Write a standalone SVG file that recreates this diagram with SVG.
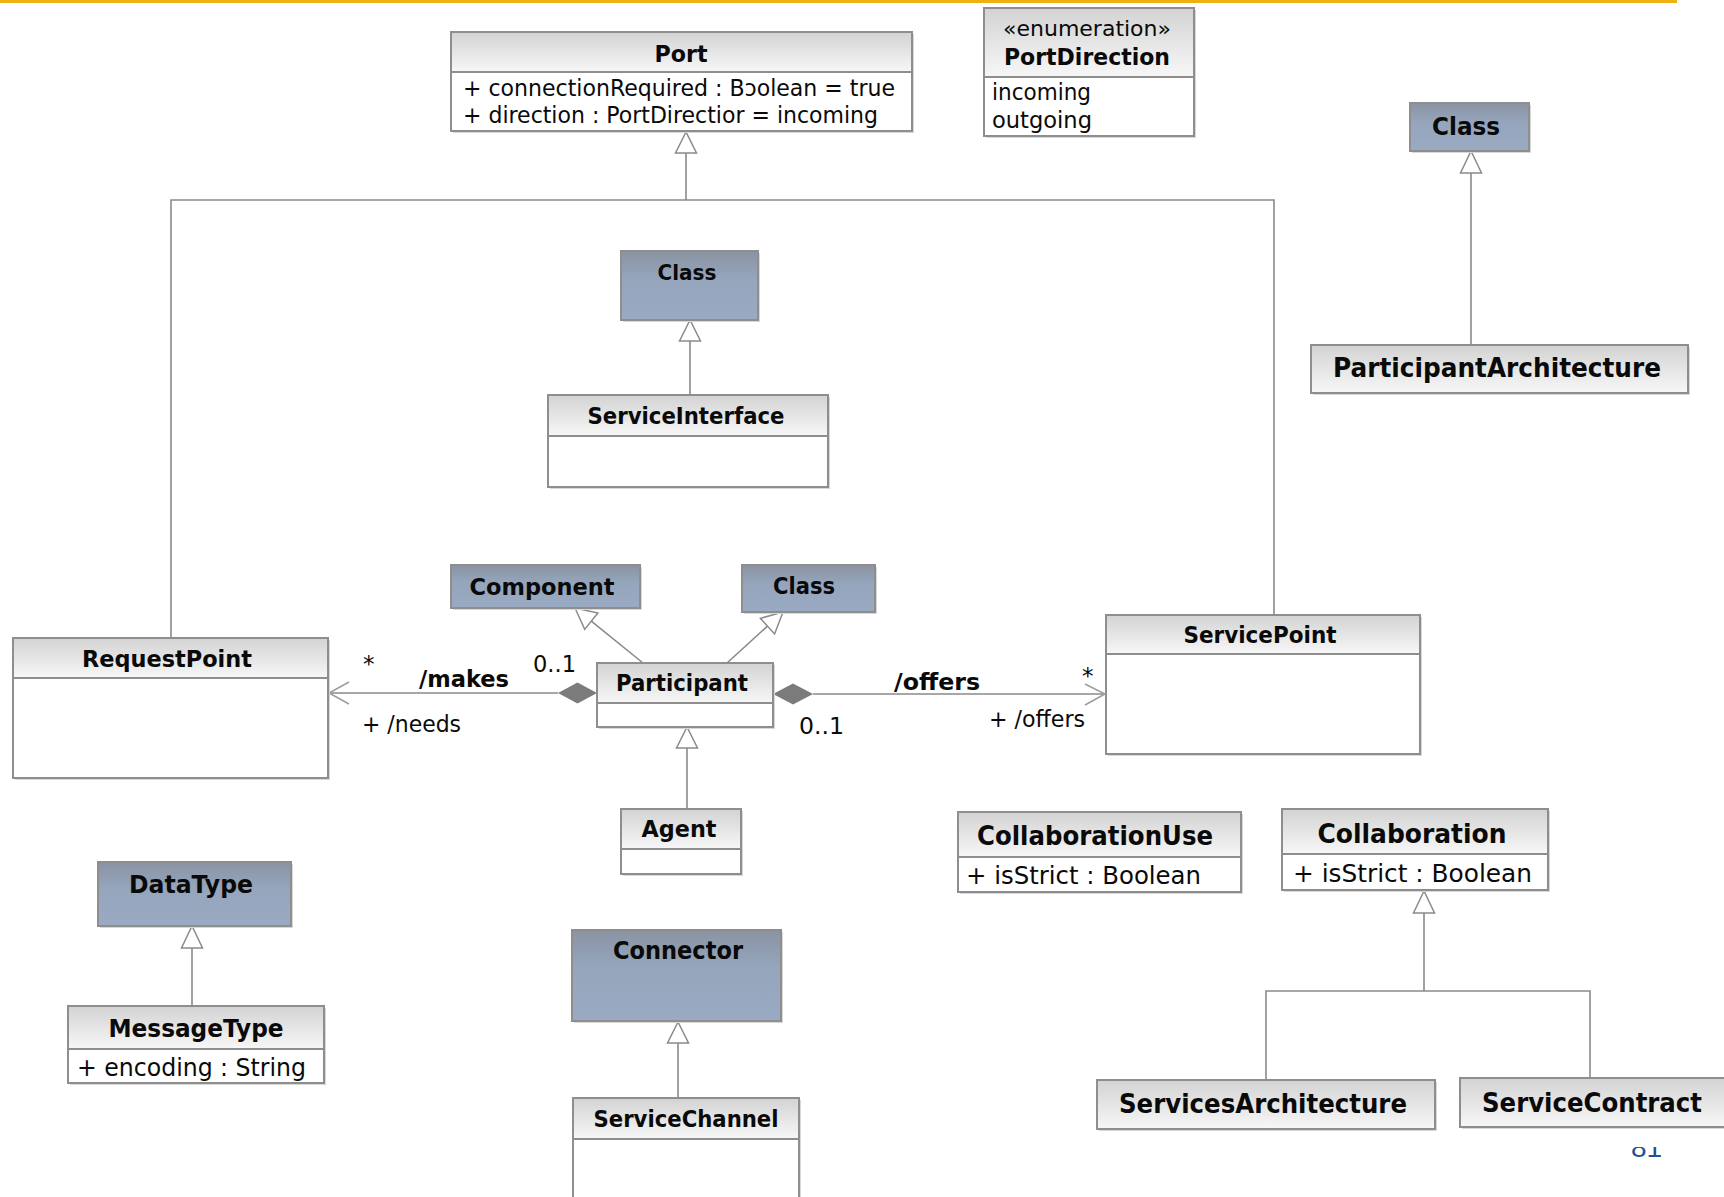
<svg xmlns="http://www.w3.org/2000/svg" width="1724" height="1197" viewBox="0 0 1724 1197">
  <defs>
    <linearGradient id="hdrGrad" x1="0" y1="0" x2="0" y2="1">
      <stop offset="0" stop-color="#d3d3d3"/>
      <stop offset="1" stop-color="#f7f7f7"/>
    </linearGradient>
    <linearGradient id="metaGrad" x1="0" y1="0" x2="0" y2="1">
      <stop offset="0" stop-color="#8a93a2"/>
      <stop offset="0.4" stop-color="#95a5bc"/>
      <stop offset="1" stop-color="#99aac2"/>
    </linearGradient>
    <clipPath id="pageNumClip">
      <rect x="1600" y="1147" width="124" height="50"/>
    </clipPath>
    <style>
      .shadow { fill: #d8d8d8; }
      .hdr { fill: url(#hdrGrad); }
      .meta { fill: url(#metaGrad); }
      .body { fill: #ffffff; }
      .frame { fill: none; stroke: #8e8e8e; stroke-width: 2; }
      .div { stroke: #8e8e8e; stroke-width: 2; }
      .title { font-family: "DejaVu Sans", "Liberation Sans", sans-serif; font-weight: bold; text-anchor: middle; fill: #0a0a0a; }
      .attr { font-family: "DejaVu Sans", "Liberation Sans", sans-serif; fill: #0a0a0a; }
      .lbl { font-family: "DejaVu Sans", "Liberation Sans", sans-serif; fill: #0a0a0a; font-size: 23px; }
      .lblb { font-family: "DejaVu Sans", "Liberation Sans", sans-serif; fill: #0a0a0a; font-size: 23.5px; font-weight: bold; }
      .edge { fill: none; stroke: #8a8a8a; stroke-width: 1.6; }
      .gen { fill: #ffffff; stroke: #8a8a8a; stroke-width: 1.5; stroke-linejoin: miter; }
      .open { fill: none; stroke: #9c9c9c; stroke-width: 1.5; }
      .dia { fill: #7b7b7b; }
    </style>
  </defs>

  <rect x="0" y="0" width="1724" height="1197" fill="#ffffff"/>
  <!-- slide accent bar -->
  <rect x="0" y="0" width="1677" height="3" fill="#eeb111"/>
  <!-- slide number, partly hidden under the diagram -->
  <text x="1631" y="1157" clip-path="url(#pageNumClip)" font-family="Liberation Sans, Arial, sans-serif" font-size="28" fill="#264f8f">81</text>

  <!-- connectors -->
  <g id="connectors">
    <!-- RequestPoint / ServicePoint specialise Port -->
    <polyline class="edge" points="171,638 171,200 1274,200 1274,615"/>
    <line class="edge" x1="686" y1="200" x2="686" y2="153"/>
    <polygon class="gen" points="686,132 675.5,153 696.5,153"/>

    <!-- ServiceInterface to Class -->
    <line class="edge" x1="690" y1="395" x2="690" y2="341"/>
    <polygon class="gen" points="690,320 679.5,341 700.5,341"/>

    <!-- ParticipantArchitecture to Class -->
    <line class="edge" x1="1471" y1="345" x2="1471" y2="173"/>
    <polygon class="gen" points="1471,151 1460.5,173 1481.5,173"/>

    <!-- Participant to Component -->
    <line class="edge" x1="643" y1="663" x2="591.3" y2="621.2"/>
    <polygon class="gen" points="575,608 584.7,629.4 597.9,613"/>

    <!-- Participant to Class -->
    <line class="edge" x1="727" y1="663" x2="767.5" y2="626.1"/>
    <polygon class="gen" points="783,612 774.6,633.9 760.4,618.3"/>

    <!-- Agent to Participant -->
    <line class="edge" x1="687" y1="809" x2="687" y2="748"/>
    <polygon class="gen" points="687,727 676.5,748 697.5,748"/>

    <!-- makes / needs -->
    <line class="edge" x1="558" y1="693" x2="329" y2="693"/>
    <polygon class="dia" points="597,693 577.5,682.5 558,693 577.5,703.5"/>
    <polyline class="open" points="349,682 329,693 349,704"/>

    <!-- offers -->
    <line class="edge" x1="813" y1="694" x2="1105" y2="694"/>
    <polygon class="dia" points="773,694 793,683.5 813,694 793,704.5"/>
    <polyline class="open" points="1085,684 1105,694 1085,705"/>

    <!-- MessageType to DataType -->
    <line class="edge" x1="192" y1="1006" x2="192" y2="948"/>
    <polygon class="gen" points="192,926 181.5,948 202.5,948"/>

    <!-- ServiceChannel to Connector -->
    <line class="edge" x1="678" y1="1098" x2="678" y2="1043"/>
    <polygon class="gen" points="678,1022 667.5,1043 688.5,1043"/>

    <!-- ServicesArchitecture / ServiceContract specialise Collaboration -->
    <polyline class="edge" points="1266,1080 1266,991 1590,991 1590,1078"/>
    <line class="edge" x1="1424" y1="991" x2="1424" y2="913"/>
    <polygon class="gen" points="1424,891 1413.5,913 1434.5,913"/>

    <!-- association end labels -->
    <text class="lbl" x="363" y="672">*</text>
    <text class="lblb" x="419" y="687" textLength="90" lengthAdjust="spacingAndGlyphs">/makes</text>
    <text class="lbl" x="533" y="672" textLength="43" lengthAdjust="spacingAndGlyphs">0..1</text>
    <text class="lbl" x="362" y="732" textLength="99" lengthAdjust="spacingAndGlyphs">+ /needs</text>
    <text class="lblb" x="894" y="690" textLength="86" lengthAdjust="spacingAndGlyphs">/offers</text>
    <text class="lbl" x="1082" y="684">*</text>
    <text class="lbl" x="989" y="727" textLength="96" lengthAdjust="spacingAndGlyphs">+ /offers</text>
    <text class="lbl" x="799" y="734" textLength="45" lengthAdjust="spacingAndGlyphs">0..1</text>
  </g>

  <!-- Port -->
  <g id="port">
    <rect class="shadow" x="453" y="34" width="461" height="99"/>
    <rect class="hdr" x="451" y="32" width="461" height="40"/>
    <rect class="body" x="451" y="72" width="461" height="59"/>
    <line class="div" x1="451" y1="72" x2="912" y2="72"/>
    <rect class="frame" x="451" y="32" width="461" height="99"/>
    <text class="title" x="681" y="62" font-size="23.5" textLength="53" lengthAdjust="spacingAndGlyphs">Port</text>
    <text class="attr" x="463" y="96" font-size="23" textLength="432" lengthAdjust="spacingAndGlyphs">+ connectionRequired : Bɔolean = true</text>
    <text class="attr" x="463" y="123" font-size="23" textLength="415" lengthAdjust="spacingAndGlyphs">+ direction : PortDirectior = incoming</text>
  </g>

  <!-- PortDirection enumeration -->
  <g id="portDirection">
    <rect class="shadow" x="986" y="10" width="210" height="128"/>
    <rect class="hdr" x="984" y="8" width="210" height="69"/>
    <rect class="body" x="984" y="77" width="210" height="59"/>
    <line class="div" x1="984" y1="77" x2="1194" y2="77"/>
    <rect class="frame" x="984" y="8" width="210" height="128"/>
    <text class="attr" x="1087" y="36" font-size="20.5" text-anchor="middle" textLength="168" lengthAdjust="spacingAndGlyphs">«enumeration»</text>
    <text class="title" x="1087" y="65" font-size="23.5" textLength="166" lengthAdjust="spacingAndGlyphs">PortDirection</text>
    <text class="attr" x="992" y="100" font-size="23" textLength="99" lengthAdjust="spacingAndGlyphs">incoming</text>
    <text class="attr" x="992" y="128" font-size="23" textLength="100" lengthAdjust="spacingAndGlyphs">outgoing</text>
  </g>

  <!-- Class (metaclass, top right) -->
  <g id="classRight">
    <rect class="shadow" x="1412" y="105" width="119" height="48"/>
    <rect class="meta" x="1410" y="103" width="119" height="48"/>
    <rect class="frame" x="1410" y="103" width="119" height="48"/>
    <text class="title" x="1466" y="135" font-size="24.5" textLength="68" lengthAdjust="spacingAndGlyphs">Class</text>
  </g>

  <!-- ParticipantArchitecture -->
  <g id="participantArchitecture">
    <rect class="shadow" x="1313" y="347" width="377" height="48"/>
    <rect class="hdr" x="1311" y="345" width="377" height="48"/>
    <rect class="frame" x="1311" y="345" width="377" height="48"/>
    <text class="title" x="1497" y="377" font-size="26" textLength="328" lengthAdjust="spacingAndGlyphs">ParticipantArchitecture</text>
  </g>

  <!-- Class (metaclass, above ServiceInterface) -->
  <g id="classTop">
    <rect class="shadow" x="623" y="253" width="137" height="69"/>
    <rect class="meta" x="621" y="251" width="137" height="69"/>
    <rect class="frame" x="621" y="251" width="137" height="69"/>
    <text class="title" x="687" y="280" font-size="21.5" textLength="59" lengthAdjust="spacingAndGlyphs">Class</text>
  </g>

  <!-- ServiceInterface -->
  <g id="serviceInterface">
    <rect class="shadow" x="550" y="397" width="280" height="92"/>
    <rect class="hdr" x="548" y="395" width="280" height="41"/>
    <rect class="body" x="548" y="436" width="280" height="51"/>
    <line class="div" x1="548" y1="436" x2="828" y2="436"/>
    <rect class="frame" x="548" y="395" width="280" height="92"/>
    <text class="title" x="686" y="424" font-size="22.5" textLength="197" lengthAdjust="spacingAndGlyphs">ServiceInterface</text>
  </g>

  <!-- Component (metaclass) -->
  <g id="component">
    <rect class="shadow" x="453" y="567" width="189" height="43"/>
    <rect class="meta" x="451" y="565" width="189" height="43"/>
    <rect class="frame" x="451" y="565" width="189" height="43"/>
    <text class="title" x="542" y="595" font-size="23.5" textLength="145" lengthAdjust="spacingAndGlyphs">Component</text>
  </g>

  <!-- Class (metaclass, above Participant) -->
  <g id="classMid">
    <rect class="shadow" x="744" y="567" width="133" height="47"/>
    <rect class="meta" x="742" y="565" width="133" height="47"/>
    <rect class="frame" x="742" y="565" width="133" height="47"/>
    <text class="title" x="804" y="594" font-size="22.5" textLength="62" lengthAdjust="spacingAndGlyphs">Class</text>
  </g>

  <!-- Participant -->
  <g id="participant">
    <rect class="shadow" x="599" y="665" width="176" height="64"/>
    <rect class="hdr" x="597" y="663" width="176" height="40"/>
    <rect class="body" x="597" y="703" width="176" height="24"/>
    <line class="div" x1="597" y1="703" x2="773" y2="703"/>
    <rect class="frame" x="597" y="663" width="176" height="64"/>
    <text class="title" x="682" y="691" font-size="22.5" textLength="132" lengthAdjust="spacingAndGlyphs">Participant</text>
  </g>

  <!-- Agent -->
  <g id="agent">
    <rect class="shadow" x="623" y="811" width="120" height="65"/>
    <rect class="hdr" x="621" y="809" width="120" height="40"/>
    <rect class="body" x="621" y="849" width="120" height="25"/>
    <line class="div" x1="621" y1="849" x2="741" y2="849"/>
    <rect class="frame" x="621" y="809" width="120" height="65"/>
    <text class="title" x="679" y="837" font-size="23.5" textLength="75" lengthAdjust="spacingAndGlyphs">Agent</text>
  </g>

  <!-- RequestPoint -->
  <g id="requestPoint">
    <rect class="shadow" x="15" y="640" width="315" height="140"/>
    <rect class="hdr" x="13" y="638" width="315" height="40"/>
    <rect class="body" x="13" y="678" width="315" height="100"/>
    <line class="div" x1="13" y1="678" x2="328" y2="678"/>
    <rect class="frame" x="13" y="638" width="315" height="140"/>
    <text class="title" x="167" y="667" font-size="23.5" textLength="170" lengthAdjust="spacingAndGlyphs">RequestPoint</text>
  </g>

  <!-- ServicePoint -->
  <g id="servicePoint">
    <rect class="shadow" x="1108" y="617" width="314" height="139"/>
    <rect class="hdr" x="1106" y="615" width="314" height="39"/>
    <rect class="body" x="1106" y="654" width="314" height="100"/>
    <line class="div" x1="1106" y1="654" x2="1420" y2="654"/>
    <rect class="frame" x="1106" y="615" width="314" height="139"/>
    <text class="title" x="1260" y="643" font-size="23" textLength="153" lengthAdjust="spacingAndGlyphs">ServicePoint</text>
  </g>

  <!-- DataType (metaclass) -->
  <g id="dataType">
    <rect class="shadow" x="100" y="864" width="193" height="64"/>
    <rect class="meta" x="98" y="862" width="193" height="64"/>
    <rect class="frame" x="98" y="862" width="193" height="64"/>
    <text class="title" x="191" y="893" font-size="24.5" textLength="124" lengthAdjust="spacingAndGlyphs">DataType</text>
  </g>

  <!-- MessageType -->
  <g id="messageType">
    <rect class="shadow" x="70" y="1008" width="256" height="77"/>
    <rect class="hdr" x="68" y="1006" width="256" height="43"/>
    <rect class="body" x="68" y="1049" width="256" height="34"/>
    <line class="div" x1="68" y1="1049" x2="324" y2="1049"/>
    <rect class="frame" x="68" y="1006" width="256" height="77"/>
    <text class="title" x="196" y="1037" font-size="24.5" textLength="175" lengthAdjust="spacingAndGlyphs">MessageType</text>
    <text class="attr" x="77" y="1076" font-size="24" textLength="229" lengthAdjust="spacingAndGlyphs">+ encoding : String</text>
  </g>

  <!-- Connector (metaclass) -->
  <g id="connector">
    <rect class="shadow" x="574" y="932" width="209" height="91"/>
    <rect class="meta" x="572" y="930" width="209" height="91"/>
    <rect class="frame" x="572" y="930" width="209" height="91"/>
    <text class="title" x="678" y="959" font-size="24" textLength="130" lengthAdjust="spacingAndGlyphs">Connector</text>
  </g>

  <!-- ServiceChannel -->
  <g id="serviceChannel">
    <rect class="shadow" x="575" y="1100" width="226" height="110"/>
    <rect class="hdr" x="573" y="1098" width="226" height="41"/>
    <rect class="body" x="573" y="1139" width="226" height="70"/>
    <line class="div" x1="573" y1="1139" x2="799" y2="1139"/>
    <rect class="frame" x="573" y="1098" width="226" height="110"/>
    <text class="title" x="686" y="1127" font-size="22.5" textLength="185" lengthAdjust="spacingAndGlyphs">ServiceChannel</text>
  </g>

  <!-- CollaborationUse -->
  <g id="collaborationUse">
    <rect class="shadow" x="960" y="814" width="283" height="80"/>
    <rect class="hdr" x="958" y="812" width="283" height="45"/>
    <rect class="body" x="958" y="857" width="283" height="35"/>
    <line class="div" x1="958" y1="857" x2="1241" y2="857"/>
    <rect class="frame" x="958" y="812" width="283" height="80"/>
    <text class="title" x="1095" y="845" font-size="26.5" textLength="236" lengthAdjust="spacingAndGlyphs">CollaborationUse</text>
    <text class="attr" x="966" y="884" font-size="25" textLength="235" lengthAdjust="spacingAndGlyphs">+ isStrict : Boolean</text>
  </g>

  <!-- Collaboration -->
  <g id="collaboration">
    <rect class="shadow" x="1284" y="811" width="266" height="81"/>
    <rect class="hdr" x="1282" y="809" width="266" height="45"/>
    <rect class="body" x="1282" y="854" width="266" height="36"/>
    <line class="div" x1="1282" y1="854" x2="1548" y2="854"/>
    <rect class="frame" x="1282" y="809" width="266" height="81"/>
    <text class="title" x="1412" y="843" font-size="26.5" textLength="189" lengthAdjust="spacingAndGlyphs">Collaboration</text>
    <text class="attr" x="1293" y="882" font-size="25" textLength="239" lengthAdjust="spacingAndGlyphs">+ isStrict : Boolean</text>
  </g>

  <!-- ServicesArchitecture -->
  <g id="servicesArchitecture">
    <rect class="shadow" x="1099" y="1082" width="338" height="49"/>
    <rect class="hdr" x="1097" y="1080" width="338" height="49"/>
    <rect class="frame" x="1097" y="1080" width="338" height="49"/>
    <text class="title" x="1263" y="1113" font-size="26" textLength="288" lengthAdjust="spacingAndGlyphs">ServicesArchitecture</text>
  </g>

  <!-- ServiceContract -->
  <g id="serviceContract">
    <rect class="shadow" x="1462" y="1080" width="270" height="49"/>
    <rect class="hdr" x="1460" y="1078" width="270" height="49"/>
    <rect class="frame" x="1460" y="1078" width="270" height="49"/>
    <text class="title" x="1592" y="1112" font-size="26" textLength="220" lengthAdjust="spacingAndGlyphs">ServiceContract</text>
  </g>
</svg>
